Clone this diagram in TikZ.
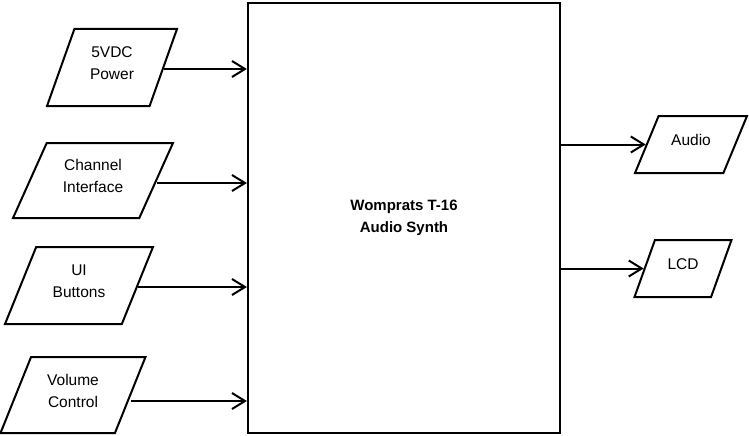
\documentclass[tikz,border=0pt]{standalone}
\usepackage{fontspec}
\setmainfont{Liberation Sans}
\usetikzlibrary{shapes.geometric,arrows.meta}

\begin{document}
\begin{tikzpicture}[x=1pt,y=-1pt,
  io/.style={draw, line width=2pt, trapezium, trapezium left angle=70, trapezium right angle=110, trapezium stretches=true},
  iotext/.style={font=\fontsize{15.5}{22}\selectfont, align=center, yshift=4.5pt},
  link/.style={draw, line width=2pt, -{Straight Barb[length=13pt,width=16pt,line width=2pt]}}]
\useasboundingbox (0,0) rectangle (749,436);
\node[draw, line width=2.2pt, minimum width=312pt, minimum height=430pt, align=center, font=\bfseries\fontsize{15}{22}\selectfont] (synth) at (404,218) {Womprats T-16\\Audio Synth};

\node[io, minimum width=130pt, minimum height=77pt, label={[iotext]center:5VDC\\Power}] (power) at (112,67.5) {};
\node[io, minimum width=160pt, minimum height=75pt, label={[iotext]center:Channel\\Interface}] (chan) at (93,180.5) {};
\node[io, minimum width=148pt, minimum height=77pt, label={[iotext]center:UI\\Buttons}] (ui) at (79,285.5) {};
\node[io, minimum width=145pt, minimum height=76pt, label={[iotext]center:Volume\\Control}] (vol) at (73,395) {};
\node[io, minimum width=112pt, minimum height=57pt, label={[iotext]center:Audio}] (audio) at (691,144.5) {};
\node[io, minimum width=97pt, minimum height=57pt, label={[iotext]center:LCD}] (lcd) at (683,268.5) {};

\path[link] ([yshift=-1.5pt]power.east) -- ([yshift=-1.5pt]power.east -| synth.west);
\path[link] ([yshift=-2.5pt]chan.east) -- ([yshift=-2.5pt]chan.east -| synth.west);
\path[link] ([yshift=-1.5pt]ui.east) -- ([yshift=-1.5pt]ui.east -| synth.west);
\path[link] ([yshift=-6pt]vol.east) -- ([yshift=-6pt]vol.east -| synth.west);
\path[link] (synth.east |- audio.west) -- (audio.west);
\path[link] (synth.east |- lcd.west) -- (lcd.west);
\end{tikzpicture}
\end{document}
